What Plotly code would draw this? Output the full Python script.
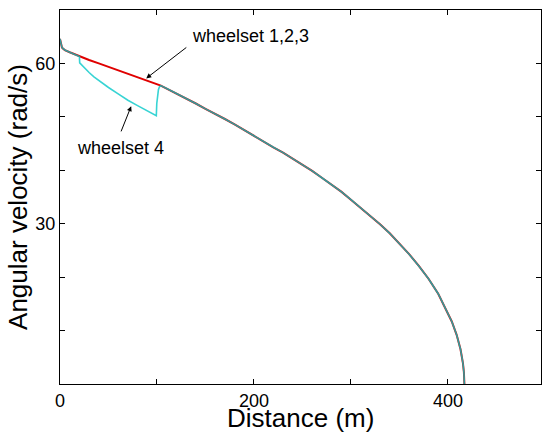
import plotly.graph_objects as go

# ---- data ----
dist_123 = [0, 1, 2, 3, 5, 10, 20, 30, 40, 50, 60, 70, 80, 90, 100, 104, 110, 120, 130,
            140, 150, 160, 170, 180, 190, 200, 210, 220, 230, 240, 250, 260, 270, 280,
            290, 300, 310, 320, 330, 340, 350, 360, 370, 380, 390, 398, 404, 409, 413,
            415.5, 416.5, 417]
omega_123 = [64.6, 63.5, 63.0, 62.8, 62.5, 62.1, 61.3, 60.65, 60.0, 59.35, 58.7, 58.05,
             57.4, 56.75, 56.1, 55.85, 55.3, 54.4, 53.4, 52.5, 51.5, 50.6, 49.6, 48.6,
             47.5, 46.5, 45.4, 44.3, 43.3, 42.2, 41.1, 39.9, 38.6, 37.3, 36.0, 34.5, 33.0,
             31.5, 29.9, 28.2, 26.3, 24.3, 22.1, 19.7, 16.9, 14.0, 11.7, 9.2, 6.5, 3.9,
             2.2, 0.0]

# wheelset 4 departs from the common curve between 20 m and 104 m
dist_4_branch = [20.3, 25, 30, 35, 40, 50, 60, 70, 80, 90, 99, 99.3, 99.8, 100.5, 101.5, 102.5]
omega_4_branch = [60.1, 59.2, 58.3, 57.5, 56.8, 55.5, 54.3, 53.1, 52.1, 51.1, 50.2, 50.2,
                  52.5, 54.3, 55.1, 55.6]

i_split = dist_123.index(20)
i_join = dist_123.index(104)
dist_4 = dist_123[:i_split + 1] + dist_4_branch + dist_123[i_join:]
omega_4 = omega_123[:i_split + 1] + omega_4_branch + omega_123[i_join:]

x_tickvals = [0, 100, 200, 300, 400]
x_ticktext = ["0", "", "200", "", "400"]
y_tickvals = [0, 10, 20, 30, 40, 50, 60, 70]
y_ticktext = ["", "", "", "30", "", "", "60", ""]

FONT = "Liberation Sans, Arial, Helvetica, sans-serif"

fig = go.Figure()
fig.add_trace(go.Scatter(x=dist_123, y=omega_123, mode="lines", name="wheelset 1,2,3",
                         line=dict(color="#e00000", width=2)))
fig.add_trace(go.Scatter(x=dist_4, y=omega_4, mode="lines", name="wheelset 4",
                         line=dict(color="#00c8c8", width=1.6), opacity=0.78))

fig.add_annotation(x=88.9, y=57.2, ax=131.8, ay=63.2, axref="x", ayref="y", text="",
                   showarrow=True, arrowhead=2, arrowsize=1, arrowwidth=1, arrowcolor="black")
fig.add_annotation(x=134, y=65.2, text="wheelset 1,2,3", showarrow=False,
                   xanchor="left", yanchor="middle", font=dict(family=FONT, size=18, color="black"))
fig.add_annotation(x=73.4, y=52.0, ax=62.4, ay=47.0, axref="x", ayref="y", text="",
                   showarrow=True, arrowhead=2, arrowsize=1, arrowwidth=1, arrowcolor="black")
fig.add_annotation(x=62.7, y=44.2, text="wheelset 4", showarrow=False,
                   xanchor="center", yanchor="middle", font=dict(family=FONT, size=18, color="black"))

# x-axis title placed as paper annotation (sits low, like the reference)
fig.add_annotation(x=0.5, y=-0.092, xref="paper", yref="paper", text="Distance (m)",
                   showarrow=False, xanchor="center", yanchor="middle",
                   font=dict(family=FONT, size=26, color="black"))

axis_common = dict(showline=True, linecolor="black", linewidth=1, mirror="ticks",
                   ticks="inside", ticklen=5, tickcolor="black", showgrid=False,
                   zeroline=False, automargin=False,
                   tickfont=dict(family=FONT, size=18, color="black"))

fig.update_xaxes(range=[0, 496], tickmode="array", tickvals=x_tickvals, ticktext=x_ticktext,
                 **axis_common)
fig.update_yaxes(range=[0, 70], tickmode="array", tickvals=y_tickvals, ticktext=y_ticktext,
                 title=dict(text="Angular velocity (rad/s)",
                            font=dict(family=FONT, size=26, color="black"), standoff=0),
                 **axis_common)

fig.update_layout(width=542, height=432, margin=dict(l=60, r=1, t=10, b=48),
                  paper_bgcolor="white", plot_bgcolor="white", showlegend=False,
                  font=dict(family=FONT, color="black"))

fig.write_html("out.html")
